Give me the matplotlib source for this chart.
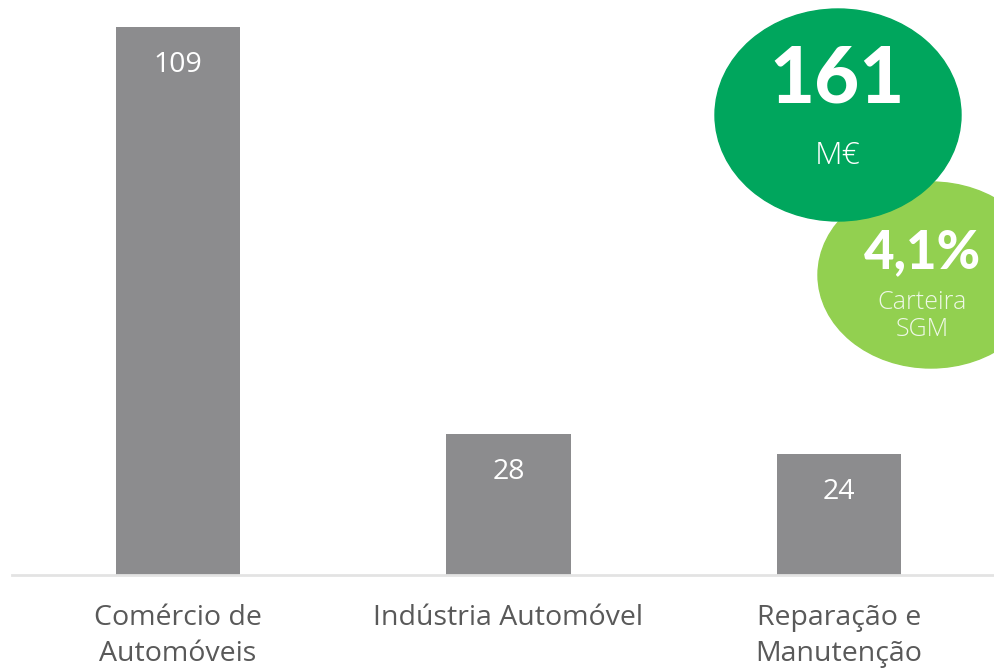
import matplotlib
matplotlib.use("Agg")
import matplotlib.pyplot as plt
from matplotlib.patches import Ellipse

categories = ["Comércio de\nAutomóveis", "Indústria Automóvel", "Reparação e\nManutenção"]
values = [109, 28, 24]
total_value = "161"
total_unit = "M€"
share_value = "4,1%"
share_label = "Carteira\nSGM"

W, H = 994, 668
fig = plt.figure(figsize=(W / 100, H / 100), dpi=100)
fig.patch.set_facecolor("white")

FONT = ["Open Sans", "DejaVu Sans"]
BIG = ["Lato", "DejaVu Sans"]
bar_color = "#8c8c8e"
label_color = "#595959"

# main axes: left at 12px, baseline at 575px, top at 0px
ax = fig.add_axes([12 / W, (H - 575) / H, (W - 12) / W, 575 / H])
x = list(range(len(values)))
ax.bar(x, values, width=0.376, color=bar_color, zorder=2)
ax.set_xlim(-0.502, 2.469)
ax.set_ylim(0, 114.36)
for s in ["top", "right", "left"]:
    ax.spines[s].set_visible(False)
ax.spines["bottom"].set_color("#e3e3e3")
ax.spines["bottom"].set_linewidth(2)
ax.set_yticks([])
ax.set_xticks(x)
ax.set_xticklabels(categories, fontsize=20.5, color=label_color, family=FONT,
                   linespacing=1.38, va="top")
ax.tick_params(axis="x", length=0, pad=21)
ax.patch.set_alpha(0)

for xi, v in zip(x, values):
    ax.annotate(str(v), (xi, v), xytext=(0, -38), textcoords="offset pixels",
                ha="center", va="center", color="white", fontsize=20.5, family=FONT)

# overlay for bubbles in pixel coordinates
ov = fig.add_axes([0, 0, 1, 1])
ov.set_xlim(0, W)
ov.set_ylim(H, 0)
ov.axis("off")
ov.patch.set_alpha(0)

ov.add_patch(Ellipse((931, 275), 226, 186, color="#92d050", zorder=1))
ov.add_patch(Ellipse((838, 115), 246, 212, color="#00a65d", zorder=2))

ov.text(837, 80, total_value, ha="center", va="center", color="white",
        fontsize=56, fontweight="black", family=BIG, zorder=3)
ov.text(838, 156, total_unit, ha="center", va="center", color="white",
        fontsize=23, fontweight="light", family=FONT, zorder=3)
ov.text(922, 253, share_value, ha="center", va="center", color="white",
        fontsize=38, fontweight="black", family=BIG, zorder=3)
ov.text(922, 316, share_label, ha="center", va="center", color="#eef8e6",
        fontsize=18, fontweight="light", family=FONT, linespacing=1.15, zorder=3)

fig.savefig("out.png", dpi=100)
